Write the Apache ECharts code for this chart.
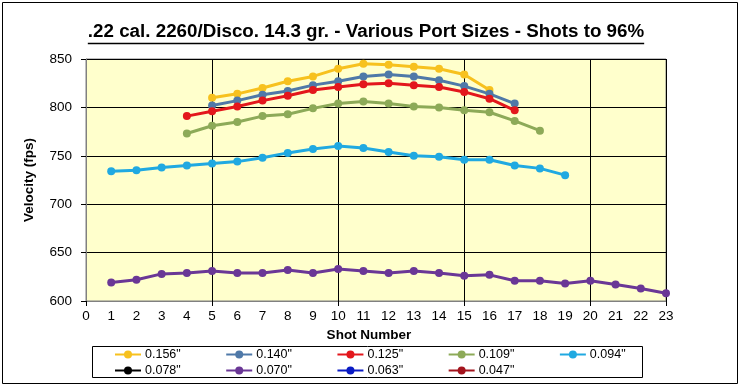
<!DOCTYPE html>
<html>
<head>
<meta charset="utf-8">
<script src="https://cdn.jsdelivr.net/npm/echarts@6/dist/echarts.min.js"></script>
<style>
html,body{margin:0;padding:0;background:#fff;}
#chart{width:740px;height:387px;}
</style>
</head>
<body>
<div id="chart"></div>
<script>
// ---- data ----
const titleText = '.22 cal. 2260/Disco. 14.3 gr. - Various Port Sizes - Shots to 96%';
const xAxisTitle = 'Shot Number';
const yAxisTitle = 'Velocity (fps)';
const shots = ['0','1','2','3','4','5','6','7','8','9','10','11','12','13','14','15','16','17','18','19','20','21','22','23'];
const seriesNames = ['0.156"', '0.140"', '0.125"', '0.109"', '0.094"', '0.078"', '0.070"', '0.063"', '0.047"'];
const seriesColors = ['#F7C11E', '#4F79A8', '#E3171C', '#8DAA58', '#20A9E1', '#000000', '#6A3796', '#0A1BC4', '#A3141D'];
const v156 = [null,null,null,null,null, 810,814,820,827,832,840,845,844,842,840,834,818, null,null,null,null,null,null,null];
const v140 = [null,null,null,null,null, 802,807,813,817,823,827,832,834,832,828,822,814,804, null,null,null,null,null,null];
const v125 = [null,null,null,null, 791,796,801,807,812,818,821,824,825,823,821,816,809,797, null,null,null,null,null,null];
const v109 = [null,null,null,null, 773,781,785,791,793,799,804,806,804,801,800,797,795,786,776, null,null,null,null,null];
const v094 = [null, 734,735,738,740,742,744,748,753,757,760,758,754,750,749,746,746,740,737,730, null,null,null,null];
const v078 = [];
const v070 = [null, 619,622,628,629,631,629,629,632,629,633,631,629,631,629,626,627,621,621,618,621,617,613,608];
const v063 = [];
const v047 = [];
const yMin = 600, yMax = 850, yStep = 50;

// ---- build ----
const allValues = [v156, v140, v125, v109, v094, v078, v070, v063, v047];
const FONT = '"Liberation Sans", Arial, sans-serif';

const chart = echarts.init(document.getElementById('chart'), null, {renderer: 'canvas'});

// measure title for underline
const cv = document.createElement('canvas').getContext('2d');
const titleSize = 18.8;
cv.font = 'bold ' + titleSize + 'px "Liberation Sans"';
const titleW = cv.measureText(titleText).width;
const titleCX = 366, titleCY = 33;

const series = seriesNames.map((name, i) => ({
  name: name,
  type: 'line',
  data: allValues[i],
  color: seriesColors[i],
  symbol: 'circle',
  symbolSize: 8,
  lineStyle: {width: 3, color: seriesColors[i]},
  itemStyle: {color: seriesColors[i]},
  emphasis: {disabled: true},
  animation: false,
  z: 10
}));

function legendRow(names, top) {
  return {
    data: names,
    left: 114,
    top: top,
    orient: 'horizontal',
    itemWidth: 26,
    itemHeight: 10,
    itemGap: 44.5,
    padding: 0,
    selectedMode: false,
    textStyle: {fontFamily: FONT, fontSize: 12.5, color: '#000', padding: [0, 0, 0, -1]}
  };
}

const option = {
  backgroundColor: '#ffffff',
  animation: false,
  textStyle: {fontFamily: FONT},
  title: {
    text: titleText,
    left: titleCX,
    top: titleCY - 11,
    textAlign: 'center',
    padding: 0,
    textStyle: {fontFamily: FONT, fontWeight: 'bold', fontSize: titleSize, color: '#000'}
  },
  legend: [
    legendRow(seriesNames.slice(0, 5), 348),
    legendRow(seriesNames.slice(5), 364)
  ],
  grid: {
    left: 86, right: 74, top: 59, bottom: 86,
    show: true,
    backgroundColor: '#FFFFCC',
    borderColor: '#808080',
    borderWidth: 1
  },
  xAxis: {
    type: 'category',
    data: shots,
    boundaryGap: false,
    name: xAxisTitle,
    nameLocation: 'middle',
    nameGap: 26,
    nameTextStyle: {fontFamily: FONT, fontWeight: 'bold', fontSize: 13.5, color: '#000', padding: [0, 14, 0, 0]},
    axisLine: {show: true, lineStyle: {color: '#808080', width: 1}},
    axisTick: {show: true, interval: 4, length: 5, inside: false, lineStyle: {color: '#000'}},
    axisLabel: {interval: 0, margin: 8, fontFamily: FONT, fontSize: 13.5, color: '#000'},
    splitLine: {show: true, interval: 4, lineStyle: {color: '#000', width: 1}}
  },
  yAxis: {
    type: 'value',
    min: yMin, max: yMax, interval: yStep,
    name: yAxisTitle,
    nameLocation: 'middle',
    nameGap: 50,
    nameRotate: 90,
    nameTextStyle: {fontFamily: FONT, fontWeight: 'bold', fontSize: 13.5, color: '#000', padding: [0, 0, 0, 0]},
    axisLine: {show: true, lineStyle: {color: '#808080', width: 1}},
    axisTick: {show: true, length: 5, lineStyle: {color: '#000'}},
    axisLabel: {margin: 14, fontFamily: FONT, fontSize: 13.5, color: '#000'},
    splitLine: {show: true, lineStyle: {color: '#000', width: 1}}
  },
  graphic: [
    {type: 'rect', left: 0, top: 0, silent: true, z: -10,
     shape: {x: 1.5, y: 1.5, width: 735, height: 381},
     style: {fill: null, stroke: '#000', lineWidth: 1}},
    {type: 'rect', silent: true, z: -5,
     shape: {x: 92.5, y: 346.5, width: 550, height: 31},
     style: {fill: '#fff', stroke: '#000', lineWidth: 1}},
    {type: 'line', silent: true,
     shape: {x1: titleCX - titleW / 2, y1: titleCY + 10.5, x2: titleCX + titleW / 2, y2: titleCY + 10.5},
     style: {stroke: '#000', lineWidth: 1.5}}
  ],
  series: series
};
chart.setOption(option);
</script>
</body>
</html>
